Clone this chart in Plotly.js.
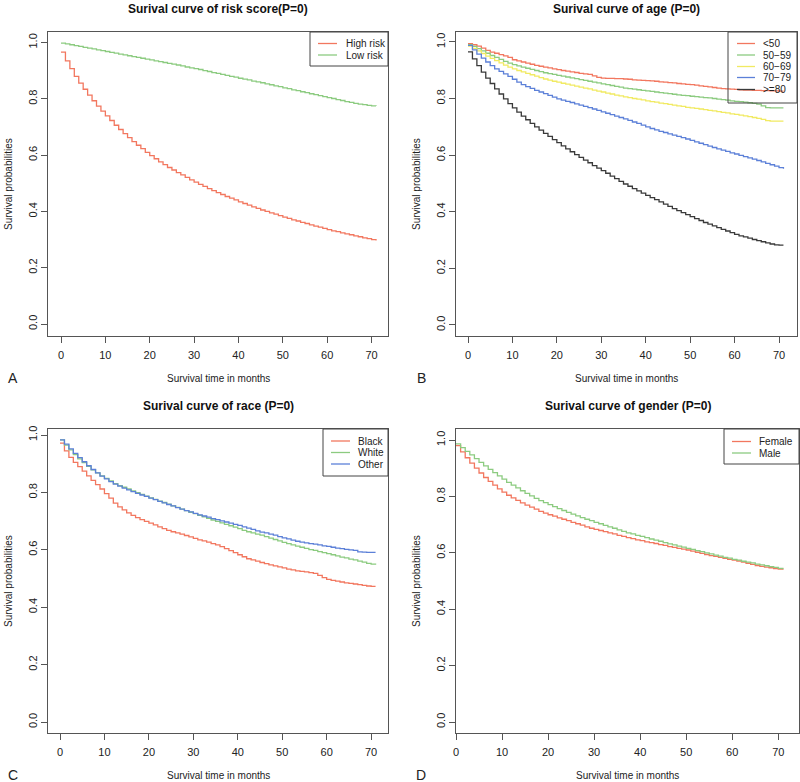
<!DOCTYPE html>
<html>
<head>
<meta charset="utf-8">
<script src="https://cdn.plot.ly/plotly-3.0.1.min.js"></script>
<style>html,body{margin:0;padding:0;background:#fff;}#chart{width:800px;height:782px;}</style>
</head>
<body>
<div id="chart"></div>
<script>
// ---------- DATA ----------
const months = [0,1,2,3,4,5,6,7,8,9,10,11,12,13,14,15,16,17,18,19,20,21,22,23,24,25,26,27,28,29,30,31,32,33,34,35,36,37,38,39,40,41,42,43,44,45,46,47,48,49,50,51,52,53,54,55,56,57,58,59,60,61,62,63,64,65,66,67,68,69,70,71];

// Panel A: risk score
const riskNames = ["High risk", "Low risk"];
const highRisk = [.966,.935,.907,.880,.856,.834,.813,.793,.774,.756,.739,.723,.706,.691,.676,.662,.648,.635,.623,.610,.598,.587,.576,.566,.556,.547,.538,.530,.521,.512,.504,.496,.489,.481,.474,.467,.460,.453,.447,.441,.434,.428,.422,.416,.411,.405,.400,.395,.390,.385,.380,.375,.370,.366,.361,.357,.352,.348,.344,.340,.335,.331,.328,.324,.320,.317,.313,.310,.306,.303,.300,.297];
const lowRisk = [.998,.995,.992,.989,.986,.983,.980,.977,.974,.971,.968,.965,.962,.959,.956,.953,.950,.947,.944,.941,.938,.935,.932,.929,.926,.923,.920,.917,.913,.910,.907,.904,.900,.897,.893,.890,.887,.883,.880,.877,.873,.870,.867,.863,.860,.857,.853,.850,.846,.843,.839,.836,.832,.829,.825,.822,.818,.815,.811,.808,.804,.801,.797,.794,.790,.787,.784,.781,.779,.777,.775,.774];

// Panel B: age
const ageNames = ["<50", "50\u221259", "60\u221269", "70\u221279", ">=80"];
const ageLt50 = [.994,.990,.985,.978,.970,.964,.960,.955,.951,.945,.937,.933,.929,.925,.921,.917,.914,.911,.908,.905,.902,.899,.897,.894,.892,.889,.887,.885,.880,.875,.872,.871,.871,.870,.870,.869,.868,.866,.865,.864,.863,.862,.861,.859,.858,.856,.855,.853,.852,.850,.849,.847,.845,.843,.841,.839,.837,.835,.834,.833,.832,.831,.830,.830,.829,.829,.828,.828,.827,.827,.826,.826];
const age50 = [.990,.984,.976,.968,.960,.952,.945,.938,.931,.925,.920,.915,.911,.907,.903,.899,.895,.891,.888,.885,.882,.879,.876,.873,.870,.867,.864,.861,.858,.855,.852,.849,.846,.843,.840,.837,.835,.833,.831,.829,.827,.825,.823,.821,.819,.817,.815,.813,.811,.810,.808,.807,.805,.803,.802,.800,.798,.796,.794,.792,.790,.789,.787,.785,.783,.780,.774,.768,.767,.767,.767,.767];
const age60 = [.985,.977,.968,.959,.950,.942,.934,.926,.918,.911,.905,.899,.894,.889,.884,.879,.874,.869,.865,.861,.858,.854,.851,.847,.844,.840,.837,.834,.830,.826,.823,.819,.816,.812,.809,.806,.803,.800,.798,.795,.792,.789,.787,.784,.782,.779,.777,.774,.772,.769,.767,.765,.763,.761,.758,.756,.754,.751,.749,.746,.744,.741,.739,.736,.733,.730,.726,.722,.720,.720,.720,.720];
const age70 = [.988,.972,.957,.943,.929,.916,.905,.896,.887,.878,.868,.858,.849,.842,.836,.829,.823,.817,.811,.805,.799,.794,.790,.786,.781,.777,.772,.768,.763,.758,.753,.748,.743,.738,.733,.728,.723,.717,.712,.706,.700,.694,.689,.684,.680,.675,.671,.666,.662,.657,.652,.647,.642,.637,.632,.627,.622,.618,.613,.608,.604,.599,.595,.590,.586,.581,.576,.571,.566,.561,.556,.552];
const age80 = [.965,.940,.916,.893,.872,.853,.834,.816,.799,.782,.767,.752,.738,.725,.712,.700,.688,.677,.666,.655,.644,.633,.622,.612,.602,.592,.582,.573,.563,.554,.545,.536,.526,.517,.507,.498,.490,.482,.474,.466,.458,.450,.443,.435,.427,.419,.411,.404,.397,.390,.383,.376,.369,.362,.356,.350,.344,.338,.332,.326,.320,.315,.311,.307,.302,.298,.294,.290,.286,.283,.282,.282];

// Panel C: race
const raceNames = ["Black", "White", "Other"];
const raceBlack = [.972,.945,.922,.905,.890,.874,.858,.842,.827,.812,.796,.780,.763,.750,.739,.729,.720,.712,.705,.699,.693,.687,.680,.674,.668,.663,.659,.655,.650,.645,.640,.635,.631,.627,.622,.617,.611,.604,.597,.590,.583,.576,.569,.565,.561,.556,.552,.548,.544,.541,.537,.533,.530,.527,.525,.523,.521,.518,.511,.503,.497,.494,.491,.488,.485,.483,.481,.479,.476,.474,.473,.473];
const raceWhite = [.983,.965,.948,.932,.917,.904,.891,.879,.868,.858,.849,.840,.831,.824,.818,.812,.805,.799,.793,.787,.781,.776,.770,.765,.759,.753,.748,.742,.737,.731,.726,.720,.715,.710,.704,.699,.694,.689,.684,.679,.674,.668,.663,.659,.655,.651,.646,.641,.636,.631,.626,.622,.617,.613,.609,.605,.601,.598,.594,.590,.587,.583,.579,.575,.572,.568,.565,.561,.557,.553,.550,.548];
const raceOther = [.983,.968,.952,.936,.921,.907,.893,.880,.868,.857,.847,.838,.829,.822,.815,.809,.803,.797,.791,.786,.780,.775,.769,.764,.758,.753,.747,.742,.737,.732,.727,.722,.718,.714,.709,.705,.701,.697,.693,.689,.685,.680,.676,.671,.666,.662,.659,.655,.651,.646,.642,.638,.634,.630,.627,.624,.622,.620,.617,.614,.612,.609,.606,.604,.602,.600,.598,.593,.592,.591,.591,.591];

// Panel D: gender
const genderNames = ["Female", "Male"];
const genderFemale = [.980,.958,.937,.918,.900,.883,.867,.853,.840,.827,.815,.804,.795,.786,.777,.769,.762,.755,.747,.741,.735,.730,.724,.719,.714,.708,.703,.698,.692,.687,.683,.679,.675,.671,.667,.662,.658,.654,.650,.646,.643,.639,.636,.633,.629,.626,.622,.619,.616,.613,.610,.606,.602,.598,.594,.590,.587,.584,.580,.577,.574,.571,.567,.563,.559,.555,.552,.549,.547,.544,.542,.540];
const genderMale = [.986,.973,.960,.947,.934,.921,.908,.896,.884,.873,.861,.850,.840,.830,.820,.811,.802,.793,.785,.778,.771,.764,.757,.750,.743,.737,.731,.725,.719,.714,.708,.703,.697,.692,.687,.681,.676,.671,.667,.662,.658,.654,.649,.645,.641,.636,.632,.628,.624,.620,.616,.612,.608,.604,.600,.596,.592,.588,.584,.581,.577,.574,.570,.567,.564,.560,.557,.554,.551,.548,.545,.542];

const xTicks = [0,10,20,30,40,50,60,70];
const yTicks = [0,0.2,0.4,0.6,0.8,1.0];
const yTickText = ["0.0","0.2","0.4","0.6","0.8","1.0"];

const titles = ["Surival curve of risk score(P=0)", "Surival curve of age (P=0)", "Surival curve of race (P=0)", "Surival curve of gender (P=0)"];
const panelLetters = ["A","B","C","D"];
const xTitle = "Survival time in months";
const yTitle = "Survival probabilities";

// ---------- STYLE ----------
const RED = "#F2775F", GREEN = "#8CCB80", YELLOW = "#F1EA62", BLUE = "#5C80D8", BLACK = "#3A3A3A";
const W = 800, H = 782;
const FONT = "Liberation Sans, Arial, Helvetica, sans-serif";
const px = v => v / W;
const py = v => 1 - v / H;

function xAx(l, r, range, anchor) {
  return {domain:[px(l), px(r)], range: range, anchor: anchor, showgrid:false, zeroline:false,
    showline:true, mirror:true, linecolor:"#555", linewidth:1, ticks:"outside", ticklen:6,
    tickcolor:"#555", tickvals:xTicks, tickfont:{size:11, color:"#222", family:FONT},
    ticklabelstandoff:3, fixedrange:true};
}
function yAx(t, b, range, anchor) {
  return {domain:[py(b), py(t)], range: range, anchor: anchor, showgrid:false, zeroline:false,
    showline:true, mirror:true, linecolor:"#555", linewidth:1, ticks:"outside", ticklen:6,
    tickcolor:"#555", tickvals:yTicks, ticktext:yTickText, tickangle:-90,
    tickfont:{size:11, color:"#222", family:FONT}, fixedrange:true};
}

function tr(y, color, xa, ya, name) {
  return {x: months, y: y, name: name, mode:"lines", line:{shape:"hv", color: color, width:1.3},
    xaxis: xa, yaxis: ya, showlegend:false, hoverinfo:"x+y+name"};
}

const data = [
  tr(highRisk, RED, "x", "y", riskNames[0]),
  tr(lowRisk, GREEN, "x", "y", riskNames[1]),
  tr(ageLt50, RED, "x2", "y2", ageNames[0]),
  tr(age50, GREEN, "x2", "y2", ageNames[1]),
  tr(age60, YELLOW, "x2", "y2", ageNames[2]),
  tr(age70, BLUE, "x2", "y2", ageNames[3]),
  tr(age80, BLACK, "x2", "y2", ageNames[4]),
  tr(raceBlack, RED, "x3", "y3", raceNames[0]),
  tr(raceWhite, GREEN, "x3", "y3", raceNames[1]),
  tr(raceOther, BLUE, "x3", "y3", raceNames[2]),
  tr(genderFemale, RED, "x4", "y4", genderNames[0]),
  tr(genderMale, GREEN, "x4", "y4", genderNames[1])
];

const annotations = [];
const shapes = [];
function ann(text, x, y, opts) {
  annotations.push(Object.assign({text: text, x: px(x), y: py(y), xref:"paper", yref:"paper",
    showarrow:false, xanchor:"center", yanchor:"middle",
    font:{family:FONT, size:10, color:"#222"}}, opts || {}));
}

// panel geometry [left, right, top, bottom]
const panels = [[48,388,32,336],[456,797,32,336],[48,388,429,733],[456,799,429,733]];
panels.forEach((p, i) => {
  const cx = (p[0] + p[1]) / 2;
  ann("<b>" + titles[i] + "</b>", cx, p[2] - 23, {font:{family:FONT, size:12, color:"#111"}});
  ann(xTitle, cx, p[3] + 42, {font:{family:FONT, size:10, color:"#222"}});
  ann(yTitle, p[0] - 40, (p[2] + p[3]) / 2, {textangle:-90, font:{family:FONT, size:10, color:"#222"}});
  ann(panelLetters[i], p[0] - 35, p[3] + 42, {font:{family:FONT, size:14, color:"#222"}});
});

function legend(box, lx0, lx1, tx, rows, names, colors) {
  shapes.push({type:"rect", xref:"paper", yref:"paper", x0:px(box[0]), x1:px(box[1]), y0:py(box[3]), y1:py(box[2]),
    line:{color:"#444", width:1}, fillcolor:"rgba(255,255,255,0)"});
  names.forEach((n, i) => {
    shapes.push({type:"line", xref:"paper", yref:"paper", x0:px(lx0), x1:px(lx1), y0:py(rows[i]), y1:py(rows[i]),
      line:{color:colors[i], width:1.3}});
    ann(n, tx, rows[i], {xanchor:"left", borderpad:0, font:{family:FONT, size:10, color:"#222"}});
  });
}
legend([310,388,32,66], 318, 337, 345, [43.5,55], riskNames, [RED, GREEN]);
legend([728,797,32,103], 737, 755, 762, [43.5,55,66.5,77.5,89.5], ageNames, [RED, GREEN, YELLOW, BLUE, BLACK]);
legend([323,388,429,476], 331, 350, 357, [441,452.5,464], raceNames, [RED, GREEN, BLUE]);
legend([724,799,429,464], 732, 751, 758, [441.5,453], genderNames, [RED, GREEN]);

const layout = {
  width: W, height: H, margin:{l:0, r:0, t:0, b:0}, paper_bgcolor:"#fff", plot_bgcolor:"#fff",
  font:{family:FONT, color:"#222"}, showlegend:false,
  xaxis: xAx(48, 388, [-2.93, 73.7], "y"),
  yaxis: yAx(32, 336, [-0.0426, 1.0373], "x"),
  xaxis2: xAx(456, 797, [-2.70, 74.05], "y2"),
  yaxis2: yAx(32, 336, [-0.039, 1.035], "x2"),
  xaxis3: xAx(48, 388, [-2.70, 73.8], "y3"),
  yaxis3: yAx(429, 733, [-0.038, 1.021], "x3"),
  xaxis4: xAx(456, 799, [0, 74.5], "y4"),
  yaxis4: yAx(429, 733, [-0.039, 1.039], "x4"),
  annotations: annotations, shapes: shapes
};

Plotly.newPlot("chart", data, layout, {displayModeBar:false, staticPlot:true});
</script>
</body>
</html>
